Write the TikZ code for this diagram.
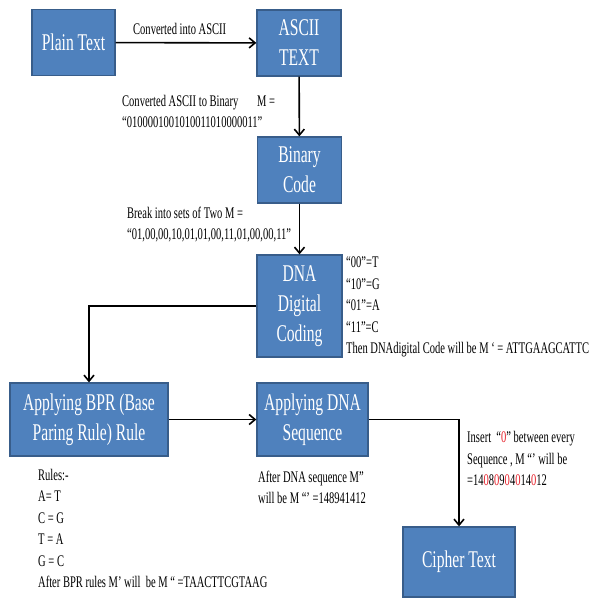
\documentclass[tikz,border=0pt]{standalone}
\usepackage{fontspec}
\setmainfont[FakeStretch=0.65]{Liberation Serif}
\usetikzlibrary{arrows.meta}
\definecolor{boxfill}{RGB}{79,129,189}
\definecolor{boxline}{RGB}{56,93,138}
\definecolor{redz}{RGB}{230,30,40}
\tikzset{
  blk/.style={draw=boxline, line width=1.3pt, fill=boxfill, text=white, align=center,
    inner sep=0pt, font=\fontsize{24}{30}\selectfont},
  lbl/.style={anchor=west, inner sep=0pt, align=left, font=\fontsize{16.2}{21.5}\selectfont},
  arr/.style={line width=1.6pt, -{Straight Barb[length=6pt,width=10pt,line width=1.6pt]}}
}
\begin{document}
\begin{tikzpicture}[x=1pt,y=-1pt]
\useasboundingbox (0,0) rectangle (590,599);
\node[blk, minimum width=83pt, minimum height=66pt] (plain) at (73.5,42.5) {Plain Text};
\node[blk, minimum width=84pt, minimum height=66pt] (ascii) at (299,43) {ASCII\\TEXT};
\node[blk, minimum width=84pt, minimum height=66pt] (binary) at (299.5,170) {Binary\\Code};
\node[blk, minimum width=85pt, minimum height=102pt] (dna) at (299.5,306) {DNA\\Digital\\Coding};
\node[blk, minimum width=158pt, minimum height=73pt] (bpr) at (89,419.5) {Applying BPR (Base\\Paring Rule) Rule};
\node[blk, minimum width=111pt, minimum height=73pt] (seq) at (312.5,419.5) {Applying DNA\\Sequence};
\node[blk, minimum width=112pt, minimum height=70pt] (cipher) at (459,562) {Cipher Text};

\draw[arr] (plain) -- (ascii);
\draw[arr] (ascii) -- (binary);
\draw[arr] (binary) -- (dna);
\draw[arr] (dna.west) -| (bpr.north);
\draw[arr] (bpr) -- (seq);
\draw[arr] (seq.east) -| (cipher.north);

\node[lbl] (t1) at (133,29) {Converted into ASCII};
\node[lbl] (t2) at (122,111.5) {Converted ASCII to Binary\quad\ M =\\“0100001001010011010000011”};
\node[lbl] (t3) at (127,224.5) {Break into sets of Two M =\\“01,00,00,10,01,01,00,11,01,00,00,11”};
\node[lbl] (t4) at (346,307) {“00”=T\\“10”=G\\“01”=A\\“11”=C\\Then DNAdigital Code will be M ‘ = ATTGAAGCATTC};
\node[lbl] (t5) at (38,528.5) {Rules:-\\A= T\\C = G\\T = A\\G = C\\After BPR rules M’ will\ \ be M “ =TAACTTCGTAAG};
\node[lbl] (t6) at (258,487.5) {After DNA sequence M”\\will be M “’ =148941412};
\node[lbl] (t7) at (467,458.5) {Insert\ \ “{\color{redz}0}” between every\\Sequence , M “’ will be\\=14{\color{redz}0}8{\color{redz}0}9{\color{redz}0}4{\color{redz}0}14{\color{redz}0}12};
\end{tikzpicture}
\end{document}
